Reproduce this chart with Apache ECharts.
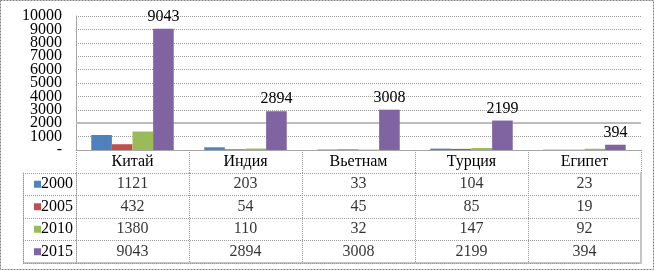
<!DOCTYPE html>
<html><head><meta charset="utf-8">
<script src="https://cdn.jsdelivr.net/npm/echarts@6/dist/echarts.min.js"></script>
<style>html,body{margin:0;padding:0;background:#fff}#c{width:656px;height:271px}</style>
</head><body><div id="c"></div>
<script>
var categories = ['Китай', 'Индия', 'Вьетнам', 'Турция', 'Египет'];
var years = ['2000', '2005', '2010', '2015'];
var v2000 = [1121, 203, 33, 104, 23];
var v2005 = [432, 54, 45, 85, 19];
var v2010 = [1380, 110, 32, 147, 92];
var v2015 = [9043, 2894, 3008, 2199, 394];
var colors = ['#4F81BD', '#C0504D', '#9BBB59', '#8064A2'];

var seriesValues = [v2000, v2005, v2010, v2015];
var FONT = '"Liberation Serif", "Times New Roman", serif';
var GRID_LINE = '#9a9a9a';

var chart = echarts.init(document.getElementById('c'), null, {renderer: 'canvas'});

var barSeries = years.map(function (y, i) {
  var s = {
    name: y, type: 'bar', xAxisIndex: 0, yAxisIndex: 0,
    data: seriesValues[i], barGap: '0%', barCategoryGap: '27%',
    itemStyle: {color: colors[i]}, silent: true, z: 3
  };
  if (i === 3) {
    s.label = {show: true, position: 'top', distance: 4, color: '#000',
      fontFamily: FONT, fontSize: 16};
  }
  if (i === 0) {
    s.markLine = {silent: true, symbol: 'none', z: 2, label: {show: false},
      lineStyle: {type: 'solid', color: '#bdbdbd', width: 2},
      data: [{yAxis: 2000}]};
  }
  return s;
});

var cellData = [];
years.forEach(function (y, i) {
  categories.forEach(function (c, j) {
    cellData.push([c, y, seriesValues[i][j]]);
  });
});

var rich = {t: {fontFamily: FONT, fontSize: 16, color: '#000'}};
colors.forEach(function (c, i) {
  rich['s' + i] = {width: 7, height: 7, backgroundColor: c};
});

function yLabel(parity) {
  return function (v) {
    var k = Math.round(v / 1000);
    if (k % 2 !== parity) return '';
    return v === 0 ? '-' : String(v);
  };
}

var yLabelStyle = {margin: 14, color: '#000', fontFamily: FONT, fontSize: 16,
  showMinLabel: true, showMaxLabel: true, hideOverlap: false};

var option = {
  animation: false,
  grid: [
    {left: 76, right: 15, top: 16, bottom: 121},
    {left: 76, right: 15, top: 173, bottom: 8}
  ],
  xAxis: [
    {type: 'category', gridIndex: 0, data: categories,
      axisLine: {show: true, lineStyle: {color: '#a6a6a6', width: 1}},
      axisTick: {show: true, length: 23, interval: 0,
        lineStyle: {color: GRID_LINE, type: 'dotted'}},
      axisLabel: {margin: 4, color: '#000', fontFamily: FONT, fontSize: 16, interval: 0},
      splitLine: {show: false}},
    {type: 'category', gridIndex: 1, data: categories, position: 'bottom',
      axisLine: {show: false}, axisTick: {show: false}, axisLabel: {show: false},
      splitLine: {show: true, interval: 0, lineStyle: {color: GRID_LINE, type: 'dotted'}}}
  ],
  yAxis: [
    {type: 'value', gridIndex: 0, min: 0, max: 10000, interval: 1000, position: 'left',
      axisLine: {show: true, lineStyle: {color: '#a6a6a6'}},
      axisTick: {show: false},
      axisLabel: Object.assign({formatter: yLabel(0)}, yLabelStyle),
      splitLine: {show: true, lineStyle: {color: GRID_LINE, type: 'dotted'}}},
    {type: 'category', gridIndex: 1, data: years, inverse: true,
      axisLine: {show: true, lineStyle: {color: GRID_LINE, type: 'dotted'}},
      axisTick: {show: true, length: 53, interval: 0,
        lineStyle: {color: GRID_LINE, type: 'dotted'}},
      axisLabel: {margin: 3, rich: rich,
        formatter: function (v, idx) { return '{s' + idx + '|}{t|' + v + '}'; }},
      splitLine: {show: true, interval: 0, lineStyle: {color: GRID_LINE, type: 'dotted'}}},
    {type: 'category', gridIndex: 1, data: years, inverse: true, position: 'left', offset: 53,
      axisLine: {show: true, lineStyle: {color: GRID_LINE, type: 'dotted'}},
      axisTick: {show: false}, axisLabel: {show: false}, splitLine: {show: false}},
    {type: 'category', gridIndex: 1, data: years, inverse: true, position: 'right',
      axisLine: {show: true, lineStyle: {color: '#c4c4c4', width: 2}},
      axisTick: {show: false}, axisLabel: {show: false}, splitLine: {show: false}},
    {type: 'value', gridIndex: 0, min: 0, max: 10000, interval: 1000, position: 'left', offset: 0,
      axisLine: {show: false}, axisTick: {show: false}, splitLine: {show: false},
      axisLabel: Object.assign({formatter: yLabel(1)}, yLabelStyle)}
  ],
  series: barSeries.concat([{
    type: 'scatter', xAxisIndex: 1, yAxisIndex: 1, data: cellData,
    symbolSize: 1, itemStyle: {color: 'rgba(0,0,0,0)'}, silent: true,
    label: {show: true, position: 'inside', color: '#000', fontFamily: FONT, fontSize: 16,
      formatter: function (p) { return String(p.value[2]); }}
  }]),
  graphic: [
    {type: 'rect', silent: true, shape: {x: 0.5, y: 0.5, width: 653, height: 269},
      style: {fill: 'none', stroke: '#808080', lineWidth: 1, lineDash: [2, 1]}},
    {type: 'line', silent: true, shape: {x1: 23, y1: 263, x2: 641, y2: 263},
      style: {stroke: '#c4c4c4', lineWidth: 2}}
  ]
};
chart.setOption(option);
</script>
</body></html>
